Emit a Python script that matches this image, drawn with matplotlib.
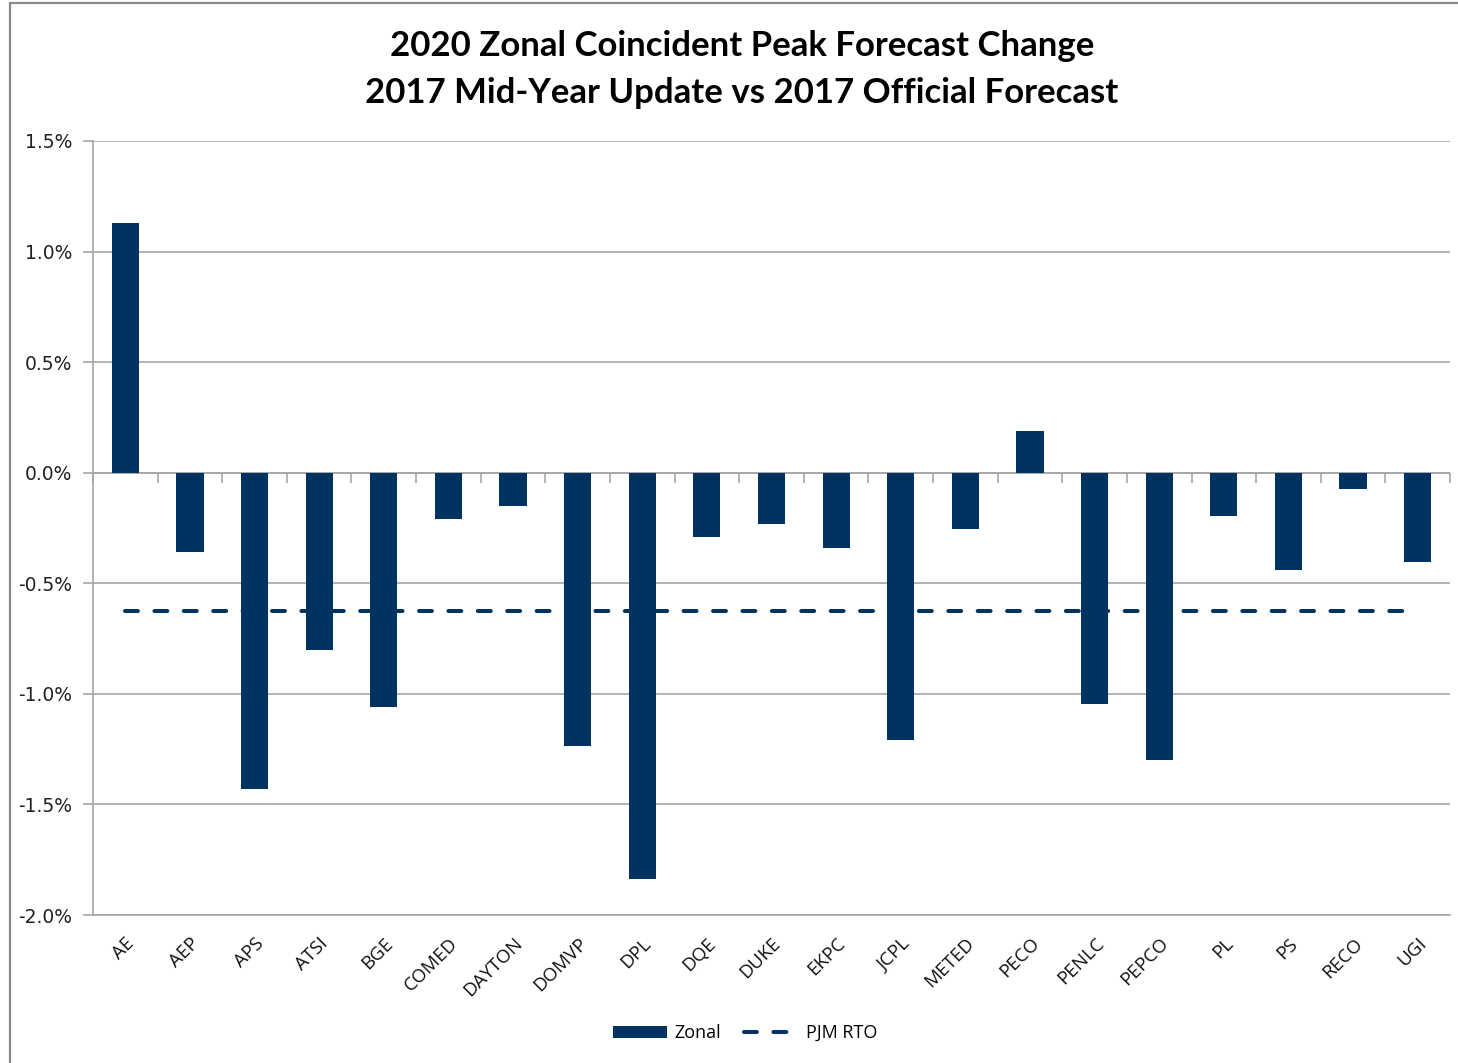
import numpy as np
import matplotlib.pyplot as plt
from matplotlib.patches import Rectangle
from matplotlib.ticker import FuncFormatter

# data (percent change)
zones = ['AE', 'AEP', 'APS', 'ATSI', 'BGE', 'COMED', 'DAYTON', 'DOMVP', 'DPL', 'DQE',
         'DUKE', 'EKPC', 'JCPL', 'METED', 'PECO', 'PENLC', 'PEPCO', 'PL', 'PS', 'RECO', 'UGI']
zonal = [1.13, -0.36, -1.43, -0.80, -1.06, -0.21, -0.15, -1.235, -1.835, -0.29,
         -0.23, -0.34, -1.21, -0.255, 0.19, -1.045, -1.30, -0.195, -0.44, -0.075, -0.405]
pjm_rto = -0.624

navy = '#003262'
grey = '#a6a6a6'

fig = plt.figure(figsize=(14.58, 10.63), dpi=100)
ax = fig.add_axes([0.0638, 0.1392, 0.9307, 0.7282])

x = np.arange(len(zones))
bars = ax.bar(x, zonal, width=0.42, color=navy, zorder=3, label='Zonal')
line, = ax.plot(x, [pjm_rto] * len(zones), color=navy, lw=2.9, ls=(0, (3.2, 4.1)),
                dash_capstyle='round', zorder=4, label='PJM RTO')

ax.set_xlim(-0.5, len(zones) - 0.5)
ax.set_ylim(-2.0, 1.5)
ax.set_yticks(np.arange(-2.0, 1.51, 0.5))
ax.yaxis.set_major_formatter(FuncFormatter(lambda v, p: '%.1f%%' % v))
ax.grid(axis='y', color=grey, lw=1.2, zorder=0)
ax.tick_params(axis='y', length=7, width=1.2, color=grey, labelsize=13.5, pad=8,
               labelcolor='#222222')

ax.set_xticks(x)
ax.set_xticklabels(zones, rotation=45, ha='right', rotation_mode='anchor',
                   fontsize=13.5, family='Open Sans', color='#111111')
ax.tick_params(axis='x', length=0, pad=14)

for s in ['top', 'right']:
    ax.spines[s].set_visible(False)
ax.spines['left'].set_color(grey)
ax.spines['left'].set_linewidth(1.2)
ax.spines['bottom'].set_color(grey)
ax.spines['bottom'].set_linewidth(1.2)

# zero axis with category tick marks
ax.axhline(0, color=grey, lw=1.2, zorder=2)
zero_ax = ax.secondary_xaxis(2.0 / 3.5)
zero_ax.set_xticks(np.arange(-0.5, len(zones), 1.0))
zero_ax.set_xticklabels([])
zero_ax.xaxis.set_ticks_position('bottom')
zero_ax.tick_params(axis='x', length=7, width=1.2, color=grey, direction='out')
for s in zero_ax.spines.values():
    s.set_visible(False)

fig.suptitle('2020 Zonal Coincident Peak Forecast Change\n2017 Mid-Year Update vs 2017 Official Forecast',
             x=0.509, y=0.972, fontsize=25, fontweight='bold', family='Lato', linespacing=1.6)

fig.legend([bars, line], ['Zonal', 'PJM RTO'], loc='center', bbox_to_anchor=(0.511, 0.028),
           ncol=2, frameon=False, handlelength=3.0, handleheight=0.6, handletextpad=0.4,
           columnspacing=1.3, prop={'family': 'Open Sans', 'size': 13})

fig.patches.append(Rectangle((10 / 1458, -0.01), 1.1, 1 - 3 / 1063 + 0.01, transform=fig.transFigure,
                             fill=False, edgecolor='#888888', lw=1.6))

fig.savefig('out.png', dpi=100)
